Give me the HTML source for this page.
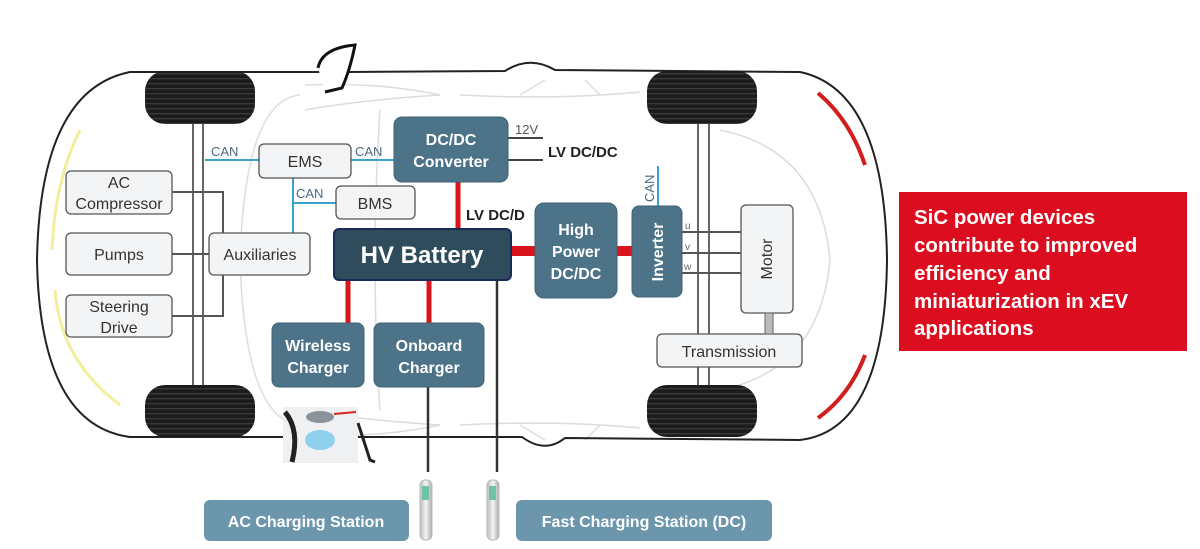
<!DOCTYPE html>
<html><head><meta charset="utf-8"><style>
html,body{margin:0;padding:0;background:#fff;}
svg{display:block;font-family:"Liberation Sans",Arial,sans-serif;}
</style></head><body>
<svg width="1200" height="549" viewBox="0 0 1200 549" xmlns="http://www.w3.org/2000/svg">
<defs>
<pattern id="tread" width="8" height="5" patternUnits="userSpaceOnUse">
<rect width="8" height="5" fill="#1c1c1c"/><rect y="3" width="8" height="1.3" fill="#3a3a3a"/>
</pattern>
<linearGradient id="post" x1="0" x2="1"><stop offset="0" stop-color="#bbb"/><stop offset=".5" stop-color="#f4f4f4"/><stop offset="1" stop-color="#aaa"/></linearGradient>
</defs>

<!-- faint interior lines -->
<g fill="none" stroke="#dcdcdc" stroke-width="1.5">
<path d="M300 95 Q245 100 240 260 Q245 420 300 425"/>
<path d="M305 85 Q380 82 440 95 Q360 100 305 110"/>
<path d="M305 435 Q380 438 440 425 Q360 420 305 410"/>
<path d="M460 95 Q560 100 640 92"/>
<path d="M460 425 Q560 420 640 428"/>
<path d="M720 130 Q820 150 830 260 Q820 370 720 390"/>
<path d="M380 110 Q370 260 380 410"/>
<path d="M520 95 L545 80 M600 95 L585 80"/>
<path d="M520 425 L545 440 M600 425 L585 440"/>
</g>

<!-- car outline -->
<path d="M130 72 L300 72 M350 72 L505 71 Q530 55 555 70 L800 72 Q885 90 887 260 Q885 430 800 440 L565 438 Q545 454 522 437 L130 437 Q40 425 37 260 Q40 90 130 72 Z" fill="none" stroke="#222" stroke-width="2"/>
<!-- mirror -->
<path d="M318 68 Q322 48 355 45 Q350 70 342 88 L325 92" fill="#fff" stroke="#111" stroke-width="3"/>

<!-- headlights -->
<path d="M80 130 Q55 180 52 250" fill="none" stroke="#f3ee9e" stroke-width="3"/>
<path d="M55 290 Q60 360 120 405" fill="none" stroke="#f3ee9e" stroke-width="3"/>
<!-- tail lights -->
<path d="M818 93 Q850 120 865 165" fill="none" stroke="#d21d1d" stroke-width="4"/>
<path d="M865 355 Q850 395 818 418" fill="none" stroke="#d21d1d" stroke-width="4"/>

<!-- axles -->
<g stroke="#666" stroke-width="2">
<line x1="193" y1="122" x2="193" y2="386"/><line x1="203" y1="122" x2="203" y2="386"/>
<line x1="698" y1="122" x2="698" y2="386"/><line x1="709" y1="122" x2="709" y2="386"/>
</g>

<!-- wheels -->
<rect x="145" y="71" width="110" height="53" rx="20" fill="url(#tread)"/>
<rect x="145" y="385" width="110" height="52" rx="20" fill="url(#tread)"/>
<rect x="647" y="71" width="110" height="53" rx="20" fill="url(#tread)"/>
<rect x="647" y="385" width="110" height="52" rx="20" fill="url(#tread)"/>

<!-- gray connectors left -->
<g stroke="#555" stroke-width="2" fill="none">
<path d="M172 192 L223 192 L223 233"/>
<path d="M172 254 L209 254"/>
<path d="M172 316 L223 316 L223 275"/>
</g>
<!-- CAN lines -->
<g stroke="#3aa0cc" stroke-width="2" fill="none">
<path d="M205 160 L259 160"/>
<path d="M351 160 L394 160"/>
<path d="M293 178 L293 233"/>
<path d="M293 203 L336 203"/>
<path d="M658 166 L658 206"/>
</g>
<g font-size="13" fill="#4a6a80">
<text x="211" y="156">CAN</text>
<text x="355" y="156">CAN</text>
<text x="296" y="198">CAN</text>
<text x="654" y="202" transform="rotate(-90 654 202)">CAN</text>
</g>

<!-- light boxes -->
<g fill="#f3f4f5" stroke="#555" stroke-width="1.3">
<rect x="66" y="171" width="106" height="43" rx="5"/>
<rect x="66" y="233" width="106" height="42" rx="5"/>
<rect x="66" y="295" width="106" height="42" rx="5"/>
<rect x="209" y="233" width="101" height="42" rx="5"/>
<rect x="259" y="144" width="92" height="34" rx="5"/>
<rect x="336" y="186" width="79" height="33" rx="5"/>
<rect x="741" y="205" width="52" height="108" rx="5"/>
<rect x="657" y="334" width="145" height="33" rx="5"/>
</g>
<rect x="765" y="313" width="8" height="21" fill="#bbb" stroke="#666"/>
<g font-size="16" fill="#333" text-anchor="middle">
<text x="119" y="188">AC</text><text x="119" y="209">Compressor</text>
<text x="119" y="260">Pumps</text>
<text x="119" y="312">Steering</text><text x="119" y="333">Drive</text>
<text x="260" y="260">Auxiliaries</text>
<text x="305" y="167">EMS</text>
<text x="375" y="209">BMS</text>
<text x="729" y="357">Transmission</text>
<text x="772" y="259" transform="rotate(-90 772 259)">Motor</text>
</g>

<!-- red power lines -->
<g stroke="#d9141c" fill="none">
<line x1="458" y1="182" x2="458" y2="229" stroke-width="5"/>
<line x1="348" y1="280" x2="348" y2="323" stroke-width="5"/>
<line x1="429" y1="280" x2="429" y2="323" stroke-width="5"/>
<line x1="511" y1="251" x2="535" y2="251" stroke-width="10"/>
<line x1="617" y1="251" x2="632" y2="251" stroke-width="10"/>
</g>
<!-- dark charge lines -->
<g stroke="#333" stroke-width="2.5">
<line x1="428" y1="387" x2="428" y2="472"/>
<line x1="497" y1="280" x2="497" y2="472"/>
</g>
<!-- 12V lines -->
<g stroke="#444" stroke-width="2">
<line x1="508" y1="138" x2="543" y2="138"/>
<line x1="508" y1="160" x2="543" y2="160"/>
</g>
<text x="515" y="134" font-size="13" fill="#555">12V</text>
<text x="548" y="157" font-size="15" font-weight="bold" fill="#222">LV DC/DC</text>
<text x="466" y="220" font-size="15" font-weight="bold" fill="#222">LV DC/D</text>
<!-- uvw -->
<g stroke="#555" stroke-width="2">
<line x1="682" y1="232" x2="741" y2="232"/>
<line x1="682" y1="253" x2="741" y2="253"/>
<line x1="682" y1="273" x2="741" y2="273"/>
</g>
<g font-size="10" fill="#666"><text x="685" y="229">u</text><text x="685" y="250">v</text><text x="684" y="270">w</text></g>

<!-- dark boxes -->
<g fill="#4d7388" stroke="#3d6275" stroke-width="1">
<rect x="394" y="117" width="114" height="65" rx="8"/>
<rect x="272" y="323" width="92" height="64" rx="7"/>
<rect x="374" y="323" width="110" height="64" rx="7"/>
<rect x="535" y="203" width="82" height="95" rx="9"/>
<rect x="632" y="206" width="50" height="91" rx="7"/>
</g>
<rect x="334" y="229" width="177" height="51" rx="5" fill="#2f4c5c" stroke="#1a2a55" stroke-width="2"/>
<g font-size="16" font-weight="bold" fill="#fff" text-anchor="middle">
<text x="451" y="145">DC/DC</text><text x="451" y="167">Converter</text>
<text x="318" y="351">Wireless</text><text x="318" y="373">Charger</text>
<text x="429" y="351">Onboard</text><text x="429" y="373">Charger</text>
<text x="576" y="235">High</text><text x="576" y="257">Power</text><text x="576" y="279">DC/DC</text>
<text x="663" y="252" transform="rotate(-90 663 252)">Inverter</text>
<text x="422" y="263" font-size="24">HV Battery</text>
</g>

<!-- wireless pad image -->
<rect x="283" y="407" width="75" height="56" fill="#eef0f2"/>
<path d="M285 412 Q300 430 292 462" stroke="#222" stroke-width="5" fill="none"/>
<ellipse cx="320" cy="417" rx="14" ry="6" fill="#8a9399"/>
<ellipse cx="320" cy="440" rx="15" ry="10" fill="#8fd0ee"/>
<line x1="334" y1="414" x2="356" y2="412" stroke="#d22" stroke-width="2"/>
<path d="M358 423 L370 460 L375 462" stroke="#222" stroke-width="3" fill="none"/>

<!-- charging posts -->
<g>
<rect x="420" y="480" width="12" height="60" rx="5" fill="url(#post)" stroke="#bbb"/>
<rect x="422" y="486" width="7" height="14" fill="#6cc3a8"/>
<rect x="487" y="480" width="12" height="60" rx="5" fill="url(#post)" stroke="#bbb"/>
<rect x="489" y="486" width="7" height="14" fill="#6cc3a8"/>
</g>

<!-- charging station labels -->
<rect x="204" y="500" width="205" height="41" rx="6" fill="#6b96ac"/>
<rect x="516" y="500" width="256" height="41" rx="6" fill="#6b96ac"/>
<g font-size="16" font-weight="bold" fill="#fff" text-anchor="middle">
<text x="306" y="527">AC Charging Station</text>
<text x="644" y="527">Fast Charging Station (DC)</text>
</g>

<!-- red info box -->
<rect x="899" y="192" width="288" height="159" fill="#dc0d1e"/>
<g font-size="20.5" font-weight="bold" fill="#fff">
<text x="914" y="224">SiC power devices</text>
<text x="914" y="252">contribute to improved</text>
<text x="914" y="280">efficiency and</text>
<text x="914" y="308">miniaturization in xEV</text>
<text x="914" y="335">applications</text>
</g>
</svg>
</body></html>
